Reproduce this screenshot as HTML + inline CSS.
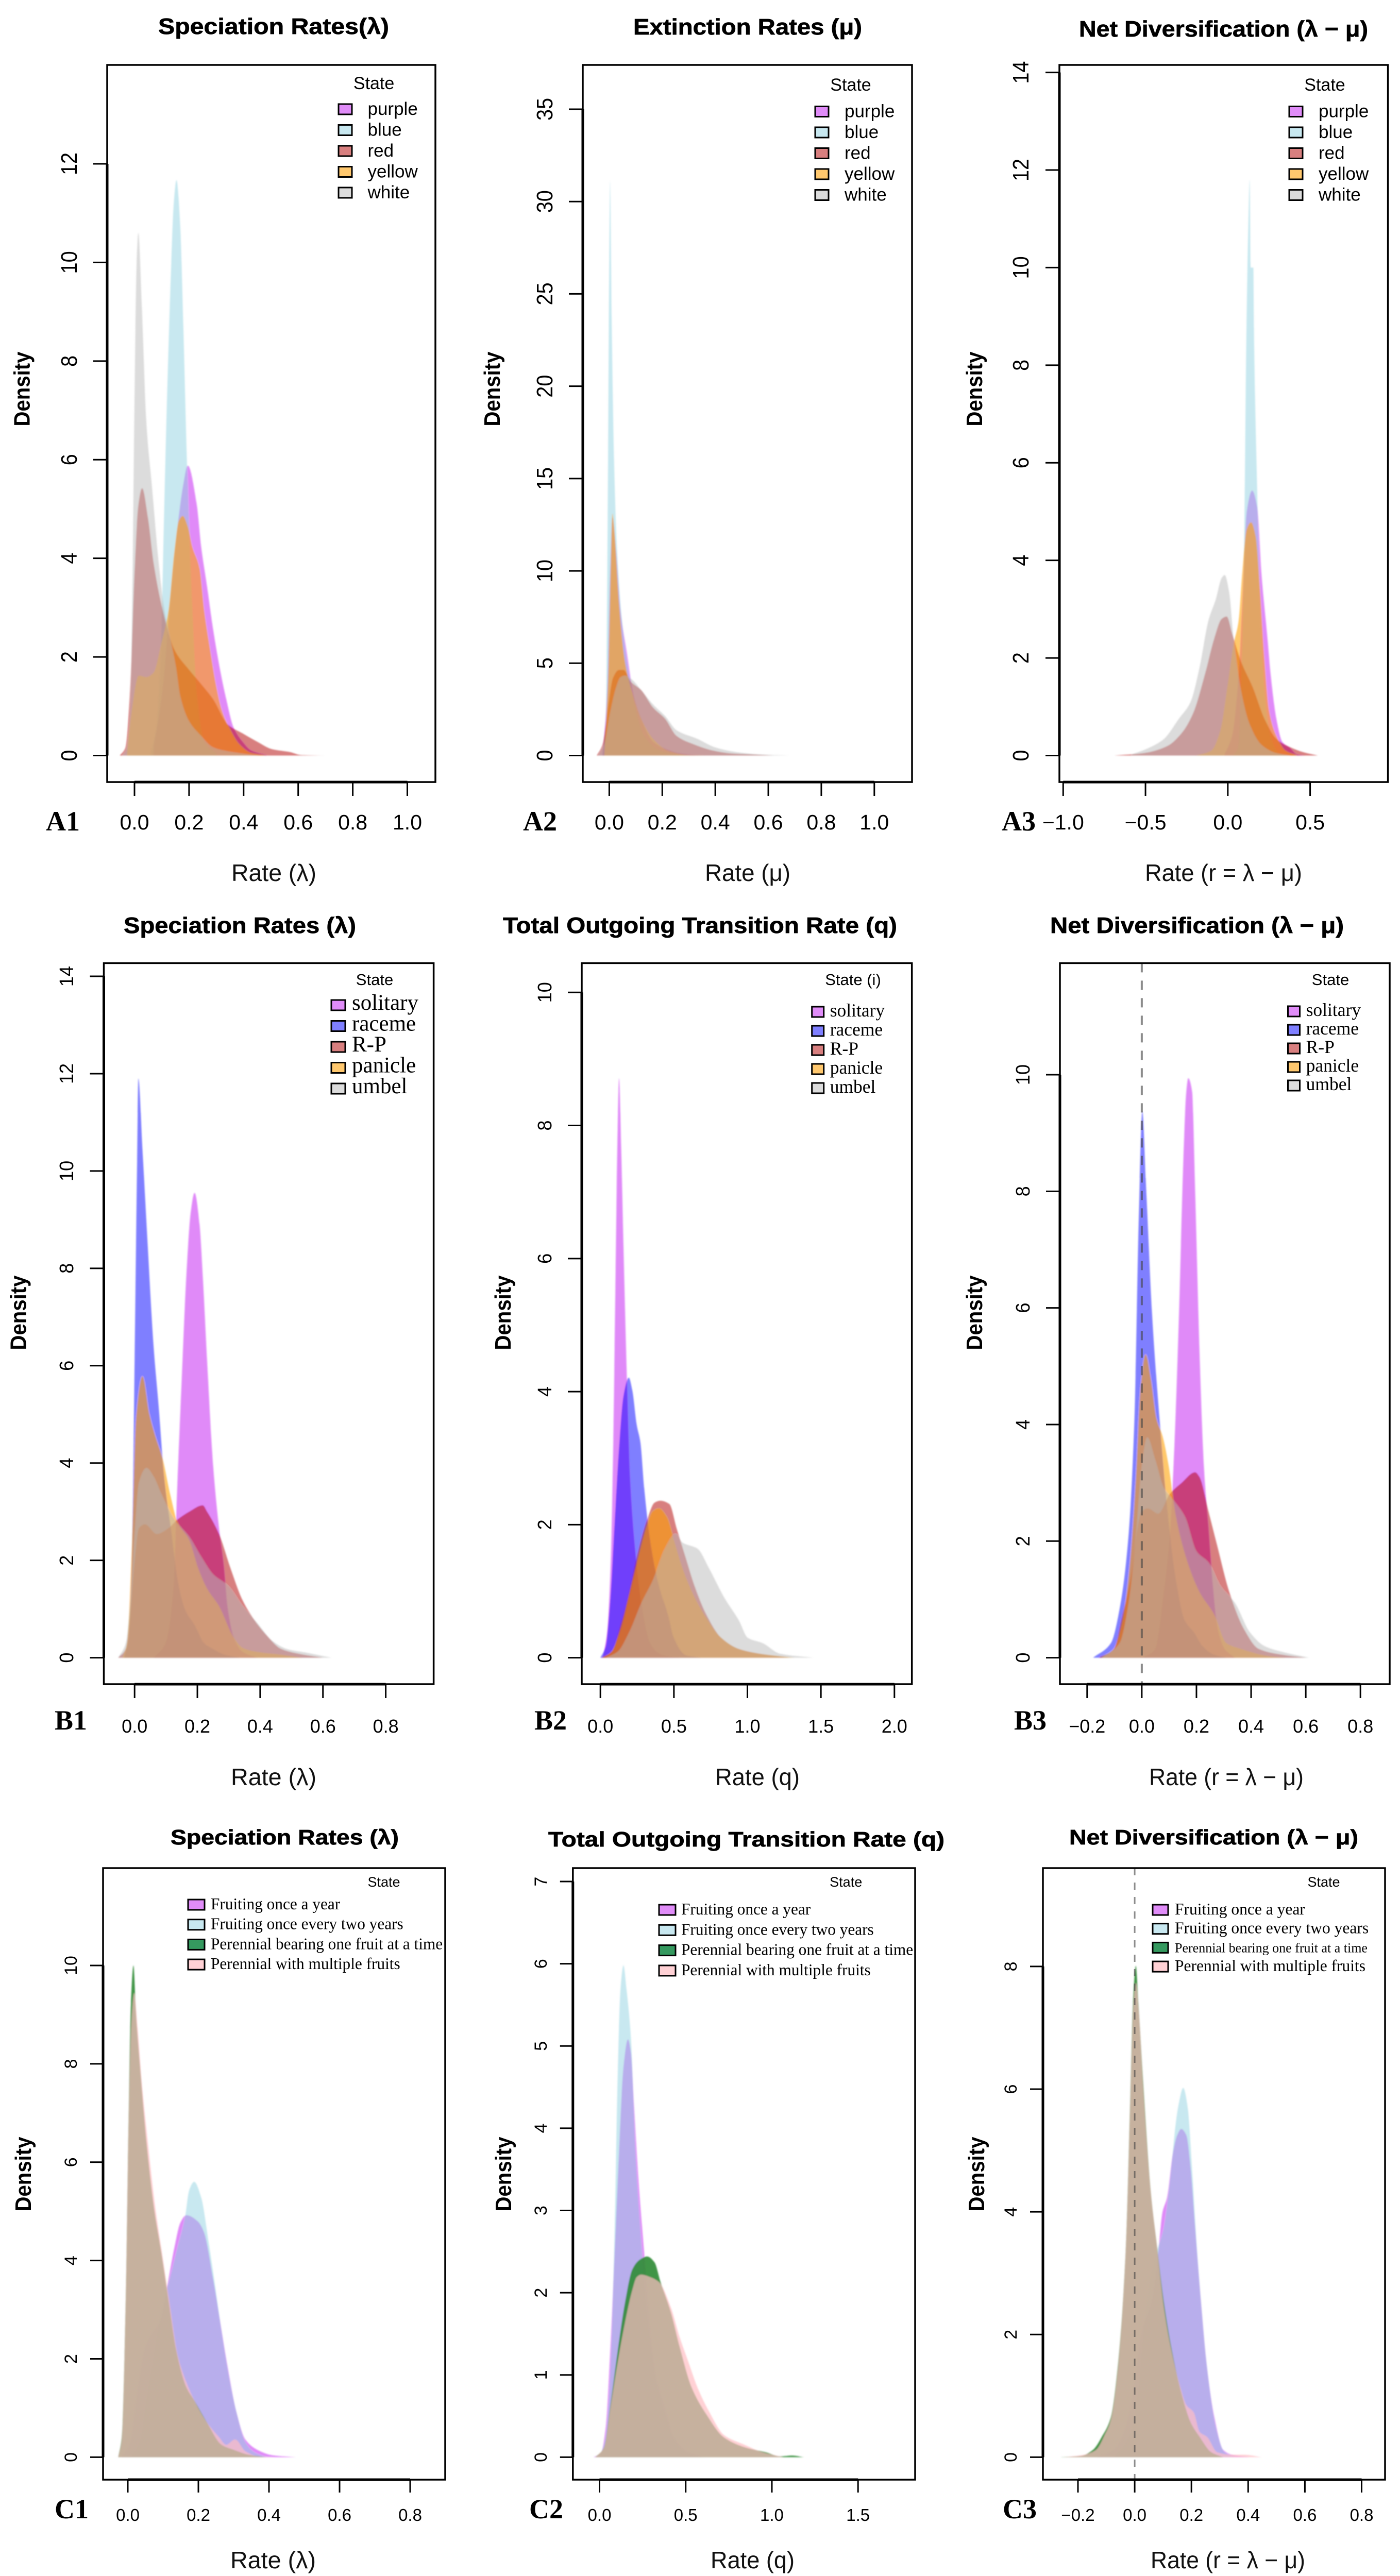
<!DOCTYPE html>
<html lang="en">
<head>
<meta charset="utf-8">
<title>Posterior rate densities by trait state</title>
<style>
html,body{margin:0;padding:0;background:#fff;width:2717px;height:5000px;overflow:hidden;}
#frame{position:absolute;left:0;top:0;width:2717px;height:5000px;overflow:hidden;background:#fff;}
svg{display:block;overflow:hidden;}
text{fill:#000;}
.title{font-family:"Liberation Sans",sans-serif;font-weight:700;font-size:44px;stroke:#000;stroke-width:.7px;}
.title-c{font-family:"Liberation Sans",sans-serif;font-weight:700;font-size:41px;stroke:#000;stroke-width:.7px;}
.axis-label{font-family:"Liberation Sans",sans-serif;font-size:46px;fill:#111;}
.density{font-family:"Liberation Sans",sans-serif;font-weight:700;font-size:44px;}
.letter{font-family:"Liberation Serif",serif;font-weight:700;font-size:54px;}
</style>
</head>
<body>
<div id="frame">
<svg id="figure" xmlns="http://www.w3.org/2000/svg" width="2717" height="5000" viewBox="0 0 2717 5000">
<defs><filter id="soft" x="-5%" y="-5%" width="110%" height="110%"><feGaussianBlur stdDeviation="1.2"/></filter></defs>

<g id="a1">
<text class="title" x="307" y="66" textLength="448" lengthAdjust="spacingAndGlyphs">Speciation Rates(λ)</text>
<text class="axis-label" x="449" y="1710" textLength="165" lengthAdjust="spacingAndGlyphs">Rate (λ)</text>
<text class="density" text-anchor="middle" transform="translate(57.4,755) rotate(-90)" textLength="145" lengthAdjust="spacingAndGlyphs">Density</text>
<text class="letter" x="89" y="1612">A1</text>
</g>
<g id="a2">
<text class="title" x="1229" y="67" textLength="444" lengthAdjust="spacingAndGlyphs">Extinction Rates (μ)</text>
<text class="axis-label" x="1368" y="1710" textLength="166" lengthAdjust="spacingAndGlyphs">Rate (μ)</text>
<text class="density" text-anchor="middle" transform="translate(970,755) rotate(-90)" textLength="145" lengthAdjust="spacingAndGlyphs">Density</text>
<text class="letter" x="1015" y="1612">A2</text>
</g>
<g id="a3">
<text class="title" x="2094" y="71" textLength="561" lengthAdjust="spacingAndGlyphs">Net Diversification (λ − μ)</text>
<text class="axis-label" x="2222" y="1710" textLength="305" lengthAdjust="spacingAndGlyphs">Rate (r = λ − μ)</text>
<text class="density" text-anchor="middle" transform="translate(1906,755) rotate(-90)" textLength="145" lengthAdjust="spacingAndGlyphs">Density</text>
<text class="letter" x="1944" y="1612">A3</text>
</g>

<g id="b1">
<text class="title" x="240" y="1811" textLength="451" lengthAdjust="spacingAndGlyphs">Speciation Rates (λ)</text>
<text class="axis-label" x="448" y="3465" textLength="166" lengthAdjust="spacingAndGlyphs">Rate (λ)</text>
<text class="density" text-anchor="middle" transform="translate(50.5,2548) rotate(-90)" textLength="145" lengthAdjust="spacingAndGlyphs">Density</text>
<text class="letter" x="106" y="3357">B1</text>
</g>
<g id="b2">
<text class="title" x="976" y="1811" textLength="765" lengthAdjust="spacingAndGlyphs">Total Outgoing Transition Rate (q)</text>
<text class="axis-label" x="1388" y="3465" textLength="164" lengthAdjust="spacingAndGlyphs">Rate (q)</text>
<text class="density" text-anchor="middle" transform="translate(991,2548) rotate(-90)" textLength="145" lengthAdjust="spacingAndGlyphs">Density</text>
<text class="letter" x="1037" y="3357">B2</text>
</g>
<g id="b3">
<text class="title" x="2038" y="1811" textLength="570" lengthAdjust="spacingAndGlyphs">Net Diversification (λ − μ)</text>
<text class="axis-label" x="2230" y="3465" textLength="300" lengthAdjust="spacingAndGlyphs">Rate (r = λ − μ)</text>
<text class="density" text-anchor="middle" transform="translate(1906,2548) rotate(-90)" textLength="145" lengthAdjust="spacingAndGlyphs">Density</text>
<text class="letter" x="1968" y="3357">B3</text>
</g>

<g id="c1">
<text class="title-c" x="331" y="3580" textLength="443" lengthAdjust="spacingAndGlyphs">Speciation Rates (λ)</text>
<text class="axis-label" x="447" y="4985" textLength="166" lengthAdjust="spacingAndGlyphs">Rate (λ)</text>
<text class="density" text-anchor="middle" transform="translate(60,4220) rotate(-90)" textLength="145" lengthAdjust="spacingAndGlyphs">Density</text>
<text class="letter" x="106" y="4888">C1</text>
</g>
<g id="c2">
<text class="title-c" x="1064" y="3584" textLength="769" lengthAdjust="spacingAndGlyphs">Total Outgoing Transition Rate (q)</text>
<text class="axis-label" x="1379" y="4985" textLength="163" lengthAdjust="spacingAndGlyphs">Rate (q)</text>
<text class="density" text-anchor="middle" transform="translate(992,4220) rotate(-90)" textLength="145" lengthAdjust="spacingAndGlyphs">Density</text>
<text class="letter" x="1027" y="4888">C2</text>
</g>
<g id="c3">
<text class="title-c" x="2075" y="3580" textLength="561" lengthAdjust="spacingAndGlyphs">Net Diversification (λ − μ)</text>
<text class="axis-label" x="2233" y="4985" textLength="300" lengthAdjust="spacingAndGlyphs">Rate (r = λ − μ)</text>
<text class="density" text-anchor="middle" transform="translate(1910,4220) rotate(-90)" textLength="145" lengthAdjust="spacingAndGlyphs">Density</text>
<text class="letter" x="1946" y="4888">C3</text>
</g>
</svg>
</div>

<script>
/* ---------- categories ---------- */
const colourStates = ['purple','blue','red','yellow','white'];
const inflorescenceStates = ['solitary','raceme','R-P','panicle','umbel'];
const fruitingStates = ['Fruiting once a year','Fruiting once every two years','Perennial bearing one fruit at a time','Perennial with multiple fruits'];

/* ---------- tick values ---------- */
const a1XTicks = [0,0.2,0.4,0.6,0.8,1];
const a1YTicks = [0,2,4,6,8,10,12];
const a2XTicks = [0,0.2,0.4,0.6,0.8,1];
const a2YTicks = [0,5,10,15,20,25,30,35];
const a3XTicks = [-1,-0.5,0,0.5];
const a3YTicks = [0,2,4,6,8,10,12,14];
const b1XTicks = [0,0.2,0.4,0.6,0.8];
const b1YTicks = [0,2,4,6,8,10,12,14];
const b2XTicks = [0,0.5,1,1.5,2];
const b2YTicks = [0,2,4,6,8,10];
const b3XTicks = [-0.2,0,0.2,0.4,0.6,0.8];
const b3YTicks = [0,2,4,6,8,10];
const c1XTicks = [0,0.2,0.4,0.6,0.8];
const c1YTicks = [0,2,4,6,8,10];
const c2XTicks = [0,0.5,1,1.5];
const c2YTicks = [0,1,2,3,4,5,6,7];
const c3XTicks = [-0.2,0,0.2,0.4,0.6,0.8];
const c3YTicks = [0,2,4,6,8];

/* ---------- density series: [rate, density] ---------- */
const a1Purple = [[.07,.16],[.103,1.33],[.13,3.1],[.157,4.6],[.179,5.5],[.195,5.88],[.228,5.1],[.244,4.25],[.266,3.43],[.287,2.6],[.315,1.7],[.336,1.15],[.363,.57],[.396,.28],[.428,.1],[.483,.01]];
const a1Blue = [[.06,.05],[.081,.63],[.098,2.4],[.108,4.8],[.119,7.2],[.133,9.7],[.144,11.2],[.154,11.67],[.168,10.7],[.179,8.7],[.192,6],[.211,3.1],[.228,1.3],[.255,.28],[.3,.05]];
const a1Red = [[-.054,0],[-.033,.16],[-.016,1.33],[0,3.66],[.014,5.06],[.028,5.42],[.049,4.83],[.07,3.9],[.103,2.96],[.146,2.15],[.2,1.74],[.244,1.45],[.287,1.15],[.342,.63],[.396,.45],[.45,.28],[.504,.13],[.57,.07],[.61,.01],[.7,0]];
const a1Yellow = [[-.027,.05],[-.011,.86],[.016,1.62],[.043,1.59],[.07,1.68],[.098,2.26],[.125,2.96],[.146,4.13],[.163,4.77],[.177,4.86],[.195,4.65],[.211,4.25],[.239,3.78],[.255,2.96],[.277,2.15],[.298,1.45],[.32,.92],[.352,.51],[.385,.22],[.428,.05],[.483,0]];
const a1White = [[-.043,0],[-.027,.16],[-.016,.75],[-.008,3.3],[0,7.2],[.008,10],[.014,10.6],[.027,9.1],[.043,6.8],[.065,5.4],[.087,4],[.108,3],[.13,2.4],[.152,1.8],[.168,1.2],[.2,.7],[.244,.4],[.287,.17],[.33,.1],[.385,.05],[.46,0]];

const a2Purple = [[-.025,0],[-.008,3.55],[.003,9.8],[.012,12.9],[.026,11],[.042,7.9],[.065,5.7],[.093,3.2],[.12,2],[.165,.75],[.21,.37],[.266,.12],[.344,0]];
const a2Blue = [[-.025,0],[-.013,2],[-.006,12.9],[0,26.9],[.003,31.1],[.009,23.8],[.018,16],[.029,11.3],[.048,7.3],[.07,4.8],[.098,2.6],[.132,1.06],[.19,.28],[.25,.06],[.32,0]];
const a2Red = [[-.047,0],[-.025,.6],[-.002,2.9],[.014,4.2],[.037,4.64],[.054,4.64],[.081,4],[.12,3.55],[.165,2.6],[.21,2],[.254,1.06],[.32,.6],[.388,.28],[.455,.12],[.533,.06],[.62,0]];
const a2Yellow = [[-.019,0],[-.004,4.2],[.006,10.4],[.012,13.1],[.02,12],[.037,8.2],[.059,5.1],[.087,3.4],[.12,2],[.165,.9],[.22,.28],[.3,.03],[.36,0]];
const a2White = [[-.041,0],[-.019,.6],[.003,2.3],[.026,3.7],[.042,4.24],[.059,4.33],[.081,4.17],[.12,3.55],[.165,2.77],[.21,2.15],[.254,1.37],[.333,.9],[.4,.44],[.478,.19],[.567,.06],[.68,0]];

const a3Purple = [[-.02,.02],[.026,.4],[.062,1.46],[.089,3.2],[.115,5],[.148,5.43],[.178,5.1],[.205,3.7],[.241,2.4],[.259,1.7],[.295,.75],[.331,.28],[.376,.16],[.421,.02],[.47,0]];
const a3Blue = [[.03,0],[.062,.16],[.089,2.5],[.101,4.9],[.112,8.4],[.124,10.8],[.133,11.8],[.139,10],[.155,10],[.16,8.4],[.178,5.5],[.196,3.1],[.223,1.34],[.259,.4],[.313,.05],[.36,0]];
const a3Red = [[-.69,0],[-.51,.05],[-.37,.19],[-.28,.46],[-.21,.87],[-.136,1.7],[-.082,2.4],[-.037,2.8],[-.007,2.85],[.026,2.5],[.08,1.93],[.151,1.4],[.223,.75],[.295,.34],[.385,.16],[.457,.07],[.547,0]];
const a3Yellow = [[-.19,0],[-.1,.1],[-.046,.5],[0,1.46],[.035,2.28],[.065,2.75],[.089,3.8],[.115,4.64],[.141,4.78],[.169,4.5],[.196,3.35],[.223,1.93],[.25,.93],[.295,.4],[.349,.1],[.42,0]];
const a3White = [[-.585,.02],[-.477,.16],[-.388,.34],[-.298,.75],[-.226,1.1],[-.172,1.8],[-.118,2.76],[-.073,3.2],[-.037,3.64],[-.019,3.7],[.008,3.35],[.035,2.4],[.08,1.34],[.133,.64],[.205,.22],[.295,.05],[.385,0]];

const b1Purple = [[.061,0],[.099,.3],[.123,1.36],[.137,3.7],[.151,5.85],[.165,7.86],[.179,9.16],[.191,9.55],[.207,8.9],[.217,7.86],[.231,6.1],[.25,3.96],[.269,2.66],[.283,1.95],[.297,1],[.316,.41],[.344,.12],[.39,0]];
const b1Blue = [[-.033,0],[-.019,.41],[-.009,1.95],[0,6.1],[.008,10.2],[.012,11.9],[.025,10.46],[.042,8.45],[.06,6.44],[.077,5.14],[.094,3.72],[.118,2.54],[.137,1.6],[.16,1],[.193,.65],[.221,.3],[.25,.18],[.287,.06],[.335,0]];
const b1Red = [[-.052,0],[-.028,.18],[-.014,.89],[0,1.95],[.014,2.66],[.033,2.74],[.071,2.54],[.108,2.66],[.137,2.84],[.174,3],[.217,3.13],[.231,3],[.269,2.54],[.306,1.83],[.344,1.18],[.382,.77],[.419,.47],[.467,.18],[.523,.08],[.6,0]];
const b1Yellow = [[-.038,0],[-.024,.3],[-.009,2.2],[.005,4.9],[.025,5.78],[.047,5],[.066,4.55],[.09,4.07],[.113,3.37],[.137,2.78],[.174,2.42],[.203,1.83],[.231,1.42],[.269,1.06],[.316,.41],[.344,.2],[.39,.12],[.467,.06],[.533,0]];
const b1White = [[-.052,0],[-.028,.3],[-.014,1.12],[0,2.54],[.014,3.6],[.038,3.9],[.061,3.72],[.085,3.37],[.127,2.84],[.174,2.48],[.212,2.07],[.25,1.71],[.297,1.48],[.344,1.06],[.391,.71],[.438,.35],[.485,.18],[.551,.1],[.627,0]];

const b2Purple = [[.016,0],[.046,.39],[.07,1.43],[.087,3.15],[.103,5.75],[.117,7.9],[.127,8.71],[.141,7.7],[.157,6.18],[.177,4.45],[.201,2.72],[.237,1.6],[.278,.82],[.338,.22],[.419,.04],[.54,0]];
const b2Blue = [[0,0],[.036,.17],[.066,.82],[.097,2.03],[.127,3.15],[.157,3.93],[.193,4.21],[.217,4.02],[.247,3.5],[.272,3.24],[.298,2.55],[.338,1.77],[.398,1.08],[.459,.65],[.499,.3],[.579,.04],[.68,0]];
const b2Red = [[.006,0],[.076,.09],[.137,.48],[.197,.99],[.258,1.6],[.318,2.07],[.368,2.33],[.408,2.36],[.469,2.31],[.519,1.94],[.579,1.51],[.64,1.08],[.72,.65],[.821,.3],[.942,.13],[1.082,.06],[1.284,0]];
const b2Yellow = [[.016,0],[.076,.09],[.137,.43],[.197,.95],[.258,1.51],[.318,1.99],[.358,2.2],[.398,2.24],[.449,2.12],[.499,1.77],[.559,1.34],[.64,.91],[.72,.6],[.821,.3],[.942,.13],[1.082,.06],[1.32,0]];
const b2White = [[.036,0],[.117,.09],[.197,.39],[.278,.82],[.358,1.17],[.439,1.64],[.511,1.86],[.559,1.73],[.66,1.64],[.74,1.34],[.841,.91],[.942,.56],[1.002,.3],[1.103,.22],[1.223,.06],[1.445,0]];

const b3Purple = [[.006,0],[.049,.15],[.081,1.13],[.103,2.12],[.119,3.6],[.136,5.87],[.152,8.52],[.163,9.71],[.17,9.94],[.184,9.71],[.195,8.04],[.211,5.28],[.227,3.3],[.244,2.22],[.26,1.23],[.276,.54],[.303,.15],[.341,0]];
const b3Blue = [[-.178,0],[-.113,.25],[-.081,.84],[-.048,2.12],[-.027,4.09],[-.011,7.54],[.002,9.37],[.016,8.04],[.038,5.87],[.065,4.09],[.092,2.61],[.125,1.33],[.157,.64],[.19,.44],[.222,.2],[.265,.05],[.309,0]];
const b3Red = [[-.157,0],[-.102,.15],[-.07,.74],[-.038,1.43],[-.016,2.22],[0,2.51],[.022,2.56],[.06,2.47],[.103,2.81],[.146,3],[.195,3.18],[.211,3.1],[.244,2.51],[.276,1.92],[.32,1.13],[.374,.49],[.428,.15],[.514,.05],[.6,0]];
const b3Yellow = [[-.146,0],[-.102,.15],[-.07,.64],[-.043,1.63],[-.021,3.1],[-.005,4.59],[.014,5.2],[.033,4.78],[.054,4.09],[.076,3.8],[.098,3.3],[.125,2.42],[.168,1.63],[.211,1.13],[.265,.74],[.309,.25],[.363,.15],[.46,.03],[.525,0]];
const b3White = [[-.146,0],[-.081,.25],[-.048,.94],[-.021,2.12],[0,3.3],[.02,3.78],[.049,3.4],[.081,2.91],[.114,2.71],[.157,2.42],[.2,1.82],[.244,1.63],[.287,1.23],[.341,.94],[.395,.44],[.449,.2],[.514,.1],[.612,0]];

const c1Purple = [[-.018,0],[.007,.3],[.028,1.42],[.049,2.23],[.07,2.54],[.09,2.74],[.111,3.45],[.132,4.26],[.149,4.77],[.166,4.92],[.199,4.79],[.216,4.57],[.241,3.65],[.262,2.74],[.283,1.83],[.308,.91],[.333,.36],[.367,.15],[.409,.04],[.476,0]];
const c1Blue = [[.007,0],[.032,.3],[.053,1.22],[.074,2.13],[.095,3.05],[.116,3.55],[.141,4.26],[.162,4.87],[.174,5.43],[.188,5.6],[.208,5.28],[.229,4.37],[.25,3.35],[.266,2.54],[.287,1.62],[.308,.91],[.333,.3],[.358,.1],[.392,0]];
const c1Green = [[-.027,0],[-.017,.41],[-.006,3.15],[.003,7.2],[.009,9.24],[.016,10],[.023,9.04],[.036,7.82],[.053,6.4],[.074,5.08],[.095,4.16],[.116,3.15],[.137,2.18],[.166,1.42],[.187,1.17],[.224,.71],[.266,.25],[.3,.15],[.342,.05],[.392,0]];
const c1Pink = [[-.027,0],[-.017,.36],[-.006,3.15],[.003,7.1],[.011,8.93],[.018,9.44],[.028,8.73],[.04,7.6],[.057,6.4],[.078,5.08],[.099,4.06],[.12,3.05],[.141,2.08],[.166,1.52],[.191,1.12],[.224,.71],[.258,.41],[.279,.25],[.304,.36],[.333,.12],[.367,.02],[.417,0]];

const c2Purple = [[-.033,0],[.01,.06],[.036,.36],[.062,1.28],[.088,2.49],[.113,3.7],[.139,4.74],[.165,5.08],[.182,4.92],[.199,4.31],[.225,3.4],[.259,2.49],[.293,1.58],[.328,.97],[.379,.61],[.431,.24],[.517,.06],[.602,0]];
const c2Blue = [[0,0],[.036,.24],[.062,.97],[.088,2.79],[.105,4.61],[.122,5.7],[.139,5.98],[.156,5.7],[.182,5.1],[.208,3.7],[.242,2.61],[.276,1.76],[.328,.97],[.379,.55],[.448,.18],[.534,.03],[.62,0]];
const c2Green = [[-.024,0],[.027,.12],[.062,.61],[.105,1.28],[.148,1.88],[.19,2.28],[.233,2.4],[.276,2.44],[.319,2.37],[.354,2.13],[.414,1.76],[.465,1.34],[.534,.85],[.62,.52],[.722,.24],[.843,.12],[.963,.06],[1.049,.01],[1.117,.02],[1.186,0]];
const c2Pink = [[-.024,0],[.027,.12],[.062,.58],[.105,1.15],[.148,1.64],[.19,2.03],[.216,2.19],[.242,2.22],[.293,2.19],[.345,2.13],[.414,1.82],[.465,1.46],[.517,1.15],[.568,.85],[.637,.55],[.722,.27],[.843,.15],[.946,.06],[1.066,0]];

const c3Purple = [[-.136,0],[-.074,.12],[-.032,.49],[-.006,1.06],[.02,1.95],[.041,2.28],[.062,2.6],[.083,3.34],[.098,3.99],[.114,4.23],[.135,4.96],[.15,5.25],[.164,5.35],[.182,5.25],[.197,4.72],[.213,3.74],[.234,2.52],[.255,1.46],[.281,.65],[.312,.12],[.343,.04],[.406,0]];
const c3Blue = [[-.074,0],[-.022,.33],[.01,1.06],[.03,2.03],[.051,2.85],[.077,3.34],[.103,3.74],[.124,4.48],[.145,5.45],[.156,5.78],[.171,6.02],[.187,5.7],[.203,4.64],[.218,3.5],[.234,2.52],[.255,1.46],[.286,.49],[.317,.08],[.354,0]];
const c3Green = [[-.262,0],[-.189,.02],[-.147,.12],[-.116,.33],[-.084,.65],[-.058,1.55],[-.032,3.34],[-.016,5.78],[-.006,7.4],[.004,8.01],[.013,7.4],[.03,6.1],[.057,4.31],[.077,3.5],[.103,2.52],[.129,1.79],[.166,1.02],[.197,.57],[.229,.33],[.27,.08],[.312,0]];
const c3Pink = [[-.251,0],[-.178,.04],[-.136,.12],[-.105,.37],[-.084,.61],[-.058,1.5],[-.032,3.34],[-.016,5.7],[-.006,7.24],[.004,7.73],[.015,7.24],[.03,6.02],[.057,4.31],[.077,3.5],[.103,2.44],[.129,1.75],[.161,1.14],[.182,.85],[.208,.73],[.229,.41],[.255,.33],[.291,.08],[.343,.04],[.385,.04],[.448,0]];

/* ---------- fills ---------- */
const PURPLE = 'rgba(193,25,241,0.5)';
const PALEBLUE = 'rgba(145,209,225,0.5)';
const RED = 'rgba(178,0,0,0.5)';
const YELLOW = 'rgba(255,160,5,0.58)';
const GREY = 'rgba(185,185,185,0.5)';
const BLUE = 'rgba(0,0,255,0.5)';
const GREEN = 'rgba(50,140,55,0.92)';
const PINK = 'rgba(255,190,195,0.7)';

const NS = 'http://www.w3.org/2000/svg';

function linearScale(v0, p0, v1, p1) {
  return function (v) { return p0 + (v - v0) * (p1 - p0) / (v1 - v0); };
}

/* monotone cubic path through the data points */
function monotonePath(pts) {
  const n = pts.length, d = [], m = [];
  for (let i = 0; i < n - 1; i++) d.push((pts[i + 1][1] - pts[i][1]) / (pts[i + 1][0] - pts[i][0]));
  m.push(d[0]);
  for (let i = 1; i < n - 1; i++) {
    if (d[i - 1] * d[i] <= 0) { m.push(0); continue; }
    const h0 = pts[i][0] - pts[i - 1][0], h1 = pts[i + 1][0] - pts[i][0];
    m.push(3 * (h0 + h1) / ((2 * h1 + h0) / d[i - 1] + (h1 + 2 * h0) / d[i]));
  }
  m.push(d[n - 2]);
  let s = 'M' + pts[0][0].toFixed(1) + ' ' + pts[0][1].toFixed(1);
  for (let i = 0; i < n - 1; i++) {
    const h = (pts[i + 1][0] - pts[i][0]) / 3;
    s += 'C' + (pts[i][0] + h).toFixed(1) + ' ' + (pts[i][1] + m[i] * h).toFixed(1) + ' ' +
      (pts[i + 1][0] - h).toFixed(1) + ' ' + (pts[i + 1][1] - m[i + 1] * h).toFixed(1) + ' ' +
      pts[i + 1][0].toFixed(1) + ' ' + pts[i + 1][1].toFixed(1);
  }
  return s;
}

function fmtX(v) { return v.toFixed(1).replace('-', '\u2212'); }

function drawPanel(c) {
  const host = document.getElementById(c.id);
  const xs = linearScale(c.xCal[0], c.xCal[1], c.xCal[2], c.xCal[3]);
  const ys = linearScale(c.yCal[0], c.yCal[1], c.yCal[2], c.yCal[3]);
  const L = c.box[0], T = c.box[1], R = c.box[2], B = c.box[3];

  const areas = document.createElementNS(NS, 'g');
  
  
  areas.setAttribute('filter', 'url(#soft)');
  host.appendChild(areas);

  c.series.forEach(function (s) {
    const pts = s.points.map(function (p) { return [xs(p[0]), ys(Math.max(p[1], 0))]; });
    const base = ys(0);
    const el = document.createElementNS(NS, 'path');
    
    
    el.setAttribute('d', monotonePath(pts) + 'L' + pts[pts.length - 1][0].toFixed(1) + ' ' + base.toFixed(1) +
      'L' + pts[0][0].toFixed(1) + ' ' + base.toFixed(1) + 'Z');
    el.setAttribute('fill', s.fill);
    areas.appendChild(el);
  });

  if (c.zeroLine) {
    const el = document.createElementNS(NS, 'line');
    
    
    el.setAttribute('x1', xs(0)); el.setAttribute('x2', xs(0));
    el.setAttribute('y1', T); el.setAttribute('y2', B);
    el.setAttribute('stroke', 'rgba(70,70,70,0.62)');
    el.setAttribute('stroke-width', c.zeroLine.w);
    el.setAttribute('stroke-dasharray', c.zeroLine.dash);
    host.appendChild(el);
  }

  const box = document.createElementNS(NS, 'rect');
  
  
  box.setAttribute('x', L); box.setAttribute('y', T);
  box.setAttribute('width', R - L); box.setAttribute('height', B - T);
  box.setAttribute('fill', 'none'); box.setAttribute('stroke', '#000'); box.setAttribute('stroke-width', 3.5);
  host.appendChild(box);

  const tickLen = c.tickLen;

  const xAxis = document.createElementNS(NS, 'line');
  
  
  xAxis.setAttribute('x1', xs(c.xTicks[0])); xAxis.setAttribute('x2', xs(c.xTicks[c.xTicks.length - 1]));
  xAxis.setAttribute('y1', B); xAxis.setAttribute('y2', B);
  xAxis.setAttribute('stroke', '#000'); xAxis.setAttribute('stroke-width', 5);
  host.appendChild(xAxis);

  const yAxis = document.createElementNS(NS, 'line');
  
  
  yAxis.setAttribute('x1', L); yAxis.setAttribute('x2', L);
  yAxis.setAttribute('y1', ys(c.yTicks[0])); yAxis.setAttribute('y2', ys(c.yTicks[c.yTicks.length - 1]));
  yAxis.setAttribute('stroke', '#000'); yAxis.setAttribute('stroke-width', 5);
  host.appendChild(yAxis);

  c.xTicks.forEach(function (v) {
    const tick = document.createElementNS(NS, 'line');
    
    
    tick.setAttribute('x1', xs(v)); tick.setAttribute('x2', xs(v));
    tick.setAttribute('y1', B); tick.setAttribute('y2', B + tickLen);
    tick.setAttribute('stroke', '#000'); tick.setAttribute('stroke-width', 3);
    host.appendChild(tick);

    const label = document.createElementNS(NS, 'text');
    
    
    label.setAttribute('x', xs(v)); label.setAttribute('y', c.xLabelY);
    label.setAttribute('text-anchor', 'middle');
    label.setAttribute('font-family', '"Liberation Sans", sans-serif');
    label.setAttribute('font-size', c.xFont);
    label.setAttribute('fill', '#222');
    label.textContent = fmtX(v);
    host.appendChild(label);
  });

  c.yTicks.forEach(function (v) {
    const tick = document.createElementNS(NS, 'line');
    
    
    tick.setAttribute('x1', L - tickLen); tick.setAttribute('x2', L);
    tick.setAttribute('y1', ys(v)); tick.setAttribute('y2', ys(v));
    tick.setAttribute('stroke', '#000'); tick.setAttribute('stroke-width', 3);
    host.appendChild(tick);

    const label = document.createElementNS(NS, 'text');
    
    
    label.setAttribute('text-anchor', 'middle');
    label.setAttribute('transform', 'translate(' + c.yLabelX + ',' + ys(v) + ') rotate(-90)');
    label.setAttribute('font-family', '"Liberation Sans", sans-serif');
    label.setAttribute('font-size', c.yFont);
    label.setAttribute('fill', '#222');
    label.textContent = String(v);
    host.appendChild(label);
    label.setAttribute('textLength', (label.getComputedTextLength() * c.yStretch).toFixed(1));
    label.setAttribute('lengthAdjust', 'spacingAndGlyphs');
  });

  const lg = c.legend;
  const legendGroup = document.createElementNS(NS, 'g');
  
  
  host.appendChild(legendGroup);

  const head = document.createElementNS(NS, 'text');
  
  
  head.setAttribute('x', lg.titleX); head.setAttribute('y', lg.titleY);
  head.setAttribute('text-anchor', 'middle');
  head.setAttribute('font-family', '"Liberation Sans", sans-serif');
  head.setAttribute('font-size', lg.titleFont);
  head.setAttribute('fill', '#222');
  head.textContent = lg.title;
  legendGroup.appendChild(head);

  lg.labels.forEach(function (text, i) {
    const cy = lg.y0 + lg.step * i;
    const sw = document.createElementNS(NS, 'rect');
    
    
    sw.setAttribute('x', lg.swX); sw.setAttribute('y', cy - 10);
    sw.setAttribute('width', lg.swW); sw.setAttribute('height', 20);
    sw.setAttribute('fill', c.series[i].swatch || c.series[i].fill);
    sw.setAttribute('stroke', '#000'); sw.setAttribute('stroke-width', 3);
    legendGroup.appendChild(sw);

    const t = document.createElementNS(NS, 'text');
    
    
    t.setAttribute('x', lg.textX); t.setAttribute('y', cy + lg.dy);
    t.setAttribute('font-family', lg.serif ? '"Liberation Serif", serif' : '"Liberation Sans", sans-serif');
    t.setAttribute('font-size', lg.fonts ? lg.fonts[i] : lg.font);
    t.setAttribute('fill', '#111');
    t.textContent = text;
    legendGroup.appendChild(t);
  });
}

function five(a, b, c, d, e, second) {
  return [
    {name:'state-1', points:a, fill:PURPLE},
    {name:'state-2', points:b, fill:second},
    {name:'state-3', points:c, fill:RED},
    {name:'state-4', points:d, fill:YELLOW},
    {name:'state-5', points:e, fill:GREY}
  ];
}
function four(a, b, c, d) {
  return [
    {name:'state-1', points:a, fill:PURPLE},
    {name:'state-2', points:b, fill:PALEBLUE},
    {name:'state-3', points:c, fill:GREEN, swatch:'#35995f'},
    {name:'state-4', points:d, fill:PINK}
  ];
}

drawPanel({id:'a1', box:[208,126,845,1518], xCal:[0,261,1,790.5], yCal:[0,1466.5,12,318], xTicks:a1XTicks, yTicks:a1YTicks,
  tickLen:27, xLabelY:1610, xFont:41, yLabelX:149, yFont:44, yStretch:.9, series:five(a1Purple,a1Blue,a1Red,a1Yellow,a1White,PALEBLUE),
  legend:{title:'State', titleX:725.6, titleY:173, titleFont:34, labels:colourStates, y0:212, step:40.5, swX:657, swW:26, textX:713.5, dy:11, font:35}});
drawPanel({id:'a2', box:[1131,126,1770,1518], xCal:[0,1182.4,1,1696.8], yCal:[0,1466.5,35,212], xTicks:a2XTicks, yTicks:a2YTicks,
  tickLen:27, xLabelY:1610, xFont:41, yLabelX:1072, yFont:44, yStretch:.9, series:five(a2Purple,a2Blue,a2Red,a2Yellow,a2White,PALEBLUE),
  legend:{title:'State', titleX:1651, titleY:176, titleFont:34, labels:colourStates, y0:216.5, step:40.5, swX:1582, swW:26, textX:1639, dy:11, font:35}});
drawPanel({id:'a3', box:[2056,126,2693.6,1518], xCal:[-1,2063.3,0.5,2542.6], yCal:[0,1466.5,14,140.6], xTicks:a3XTicks, yTicks:a3YTicks,
  tickLen:27, xLabelY:1610, xFont:41, yLabelX:1996, yFont:44, yStretch:.9, series:five(a3Purple,a3Blue,a3Red,a3Yellow,a3White,PALEBLUE),
  legend:{title:'State', titleX:2571, titleY:176, titleFont:34, labels:colourStates, y0:216.5, step:40.5, swX:2502, swW:26, textX:2559, dy:11, font:35}});

drawPanel({id:'b1', box:[201.5,1869.4,841.6,3269], xCal:[0,261.2,0.8,748.6], yCal:[0,3217.6,14,1895], xTicks:b1XTicks, yTicks:b1YTicks,
  tickLen:27, xLabelY:3363, xFont:36, yLabelX:142, yFont:38, yStretch:.95, series:five(b1Purple,b1Blue,b1Red,b1Yellow,b1White,BLUE),
  legend:{title:'State', titleX:727, titleY:1912, titleFont:31, labels:inflorescenceStates, y0:1951, step:40.5, swX:643, swW:27, textX:683, dy:9, font:43, serif:true}});
drawPanel({id:'b2', box:[1129,1869.4,1769.7,3269], xCal:[0,1165.2,2,1735.8], yCal:[0,3217.6,10,1926.3], xTicks:b2XTicks, yTicks:b2YTicks,
  tickLen:27, xLabelY:3363, xFont:36, yLabelX:1070, yFont:38, yStretch:.95, series:five(b2Purple,b2Blue,b2Red,b2Yellow,b2White,BLUE),
  legend:{title:'State (i)', titleX:1655.5, titleY:1912, titleFont:31, labels:inflorescenceStates, y0:1964, step:37, swX:1575.7, swW:23, textX:1610.7, dy:9, font:35.5, serif:true}});
drawPanel({id:'b3', box:[2057,1869.4,2697,3269], xCal:[-0.2,2109.8,0.8,2640.2], yCal:[0,3217.6,10,2086], xTicks:b3XTicks, yTicks:b3YTicks,
  tickLen:27, xLabelY:3363, xFont:36, yLabelX:1998, yFont:38, yStretch:.95, series:five(b3Purple,b3Blue,b3Red,b3Yellow,b3White,BLUE), zeroLine:{w:4, dash:'18 16'},
  legend:{title:'State', titleX:2582, titleY:1912, titleFont:31, labels:inflorescenceStates, y0:1963, step:36, swX:2499.5, swW:23, textX:2534.6, dy:9, font:35.5, serif:true}});

drawPanel({id:'c1', box:[200,3626,864,4813], xCal:[0,248,0.8,796], yCal:[0,4769.4,10,3815], xTicks:c1XTicks, yTicks:c1YTicks,
  tickLen:25, xLabelY:4893, xFont:33, yLabelX:149, yFont:34, yStretch:1, series:four(c1Purple,c1Blue,c1Green,c1Pink),
  legend:{title:'State', titleX:745, titleY:3662, titleFont:27, labels:fruitingStates, y0:3697, step:38.7, swX:365, swW:32, textX:409, dy:9, font:31.3, serif:true}});
drawPanel({id:'c2', box:[1111.8,3626,1776,4813], xCal:[0,1163.5,1.5,1665.2], yCal:[0,4769.4,7,3652], xTicks:c2XTicks, yTicks:c2YTicks,
  tickLen:25, xLabelY:4893, xFont:33, yLabelX:1061, yFont:34, yStretch:1, series:four(c2Purple,c2Blue,c2Green,c2Pink),
  legend:{title:'State', titleX:1641.7, titleY:3662, titleFont:27, labels:fruitingStates, y0:3707, step:39.3, swX:1279, swW:32, textX:1322, dy:9, font:31.3, serif:true}});
drawPanel({id:'c3', box:[2024,3626,2688,4813], xCal:[-0.2,2092,0.8,2642.5], yCal:[0,4769.4,8,3816.9], xTicks:c3XTicks, yTicks:c3YTicks,
  tickLen:25, xLabelY:4893, xFont:33, yLabelX:1973, yFont:34, yStretch:1, series:four(c3Purple,c3Blue,c3Green,c3Pink), zeroLine:{w:3, dash:'14 14'},
  legend:{title:'State', titleX:2569, titleY:3662, titleFont:27, labels:fruitingStates, y0:3707, step:36.7, swX:2237, swW:30, textX:2280, dy:9, fonts:[31.5,31.5,26,31.5], serif:true}});
</script>
</body>
</html>
